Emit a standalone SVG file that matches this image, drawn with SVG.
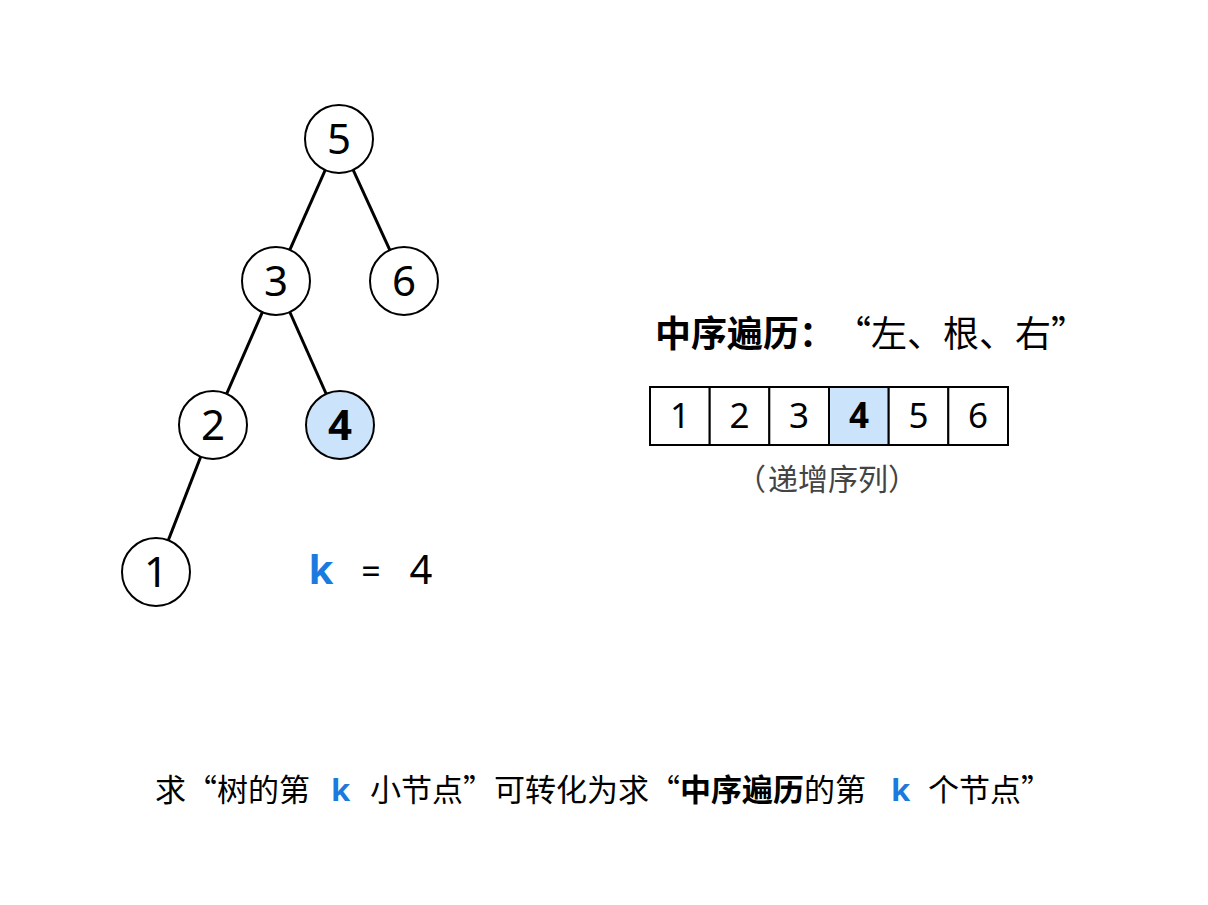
<svg xmlns="http://www.w3.org/2000/svg" width="1208" height="905" viewBox="0 0 1208 905">
<style>
.n{fill:#fff;stroke:#000;stroke-width:2}
.hl{fill:#cce4fb}
.t{font-family:"Noto Sans","Noto Sans CJK SC",sans-serif;fill:#000}
.cj{font-family:"Noto Sans CJK SC","Noto Sans",sans-serif;fill:#000;font-feature-settings:"chws" 0,"halt" 0}
.nt{font-size:42px;text-anchor:middle}
.c{font-size:35px;text-anchor:middle}
.e{stroke:#000;stroke-width:3}
.b{font-weight:bold}
.k{fill:#1a7ae0;font-weight:bold;font-family:"Noto Sans",sans-serif}
</style>
<rect width="1208" height="905" fill="#fff"/>
<g id="edges">
<line class="e" x1="339" y1="139" x2="276" y2="281"/>
<line class="e" x1="339" y1="139" x2="404" y2="281"/>
<line class="e" x1="276" y1="281" x2="213" y2="425"/>
<line class="e" x1="276" y1="281" x2="340" y2="425"/>
<line class="e" x1="213" y1="425" x2="156" y2="572"/>
</g>
<g id="n5"><circle class="n" cx="339" cy="139" r="34"/><text class="t nt" x="339" y="154">5</text></g>
<g id="n3"><circle class="n" cx="276" cy="281" r="34"/><text class="t nt" x="276" y="296">3</text></g>
<g id="n6"><circle class="n" cx="404" cy="281" r="34"/><text class="t nt" x="404" y="296">6</text></g>
<g id="n2"><circle class="n" cx="213" cy="425" r="34"/><text class="t nt" x="213" y="440">2</text></g>
<g id="n4"><circle class="n hl" cx="340" cy="425" r="34"/><text class="t nt b" x="340" y="440">4</text></g>
<g id="n1"><circle class="n" cx="156" cy="572" r="34"/><text class="t nt" x="156" y="587">1</text></g>
<g id="klabel">
<text class="t k" x="321" y="584" text-anchor="middle" font-size="40">k</text>
<text class="t" x="371" y="584" text-anchor="middle" font-size="34">=</text>
<text class="t" x="421" y="584" text-anchor="middle" font-size="40">4</text>
</g>
<g id="title">
<text class="cj" font-size="36" y="347"><tspan x="655" class="b">中序遍历：</tspan><tspan x="835">“左、根、右”</tspan></text>
</g>
<g id="array">
<rect x="650" y="387" width="59.7" height="58" class="n"/>
<rect x="709.7" y="387" width="59.7" height="58" class="n"/>
<rect x="769.3" y="387" width="59.7" height="58" class="n"/>
<rect x="829" y="387" width="59.7" height="58" class="n hl"/>
<rect x="888.7" y="387" width="59.7" height="58" class="n"/>
<rect x="948.3" y="387" width="59.7" height="58" class="n"/>
<text class="t c" x="680" y="428">1</text>
<text class="t c" x="739.5" y="428">2</text>
<text class="t c" x="799" y="428">3</text>
<text class="t c b" x="859" y="428">4</text>
<text class="t c" x="918.5" y="428">5</text>
<text class="t c" x="978" y="428">6</text>
</g>
<g id="sub"><text class="cj" y="490" font-size="30" style="fill:#444"><tspan x="736">（</tspan><tspan x="768">递增序列</tspan><tspan x="888">）</tspan></text></g>
<g id="caption">
<text class="cj" font-size="31" y="801"><tspan x="155">求“树的第</tspan><tspan x="331" class="k">k</tspan><tspan x="370">小节点”可转化为求“</tspan><tspan class="b">中序遍历</tspan><tspan>的第</tspan><tspan x="891" class="k">k</tspan><tspan x="928">个节点”</tspan></text>
</g>
</svg>
